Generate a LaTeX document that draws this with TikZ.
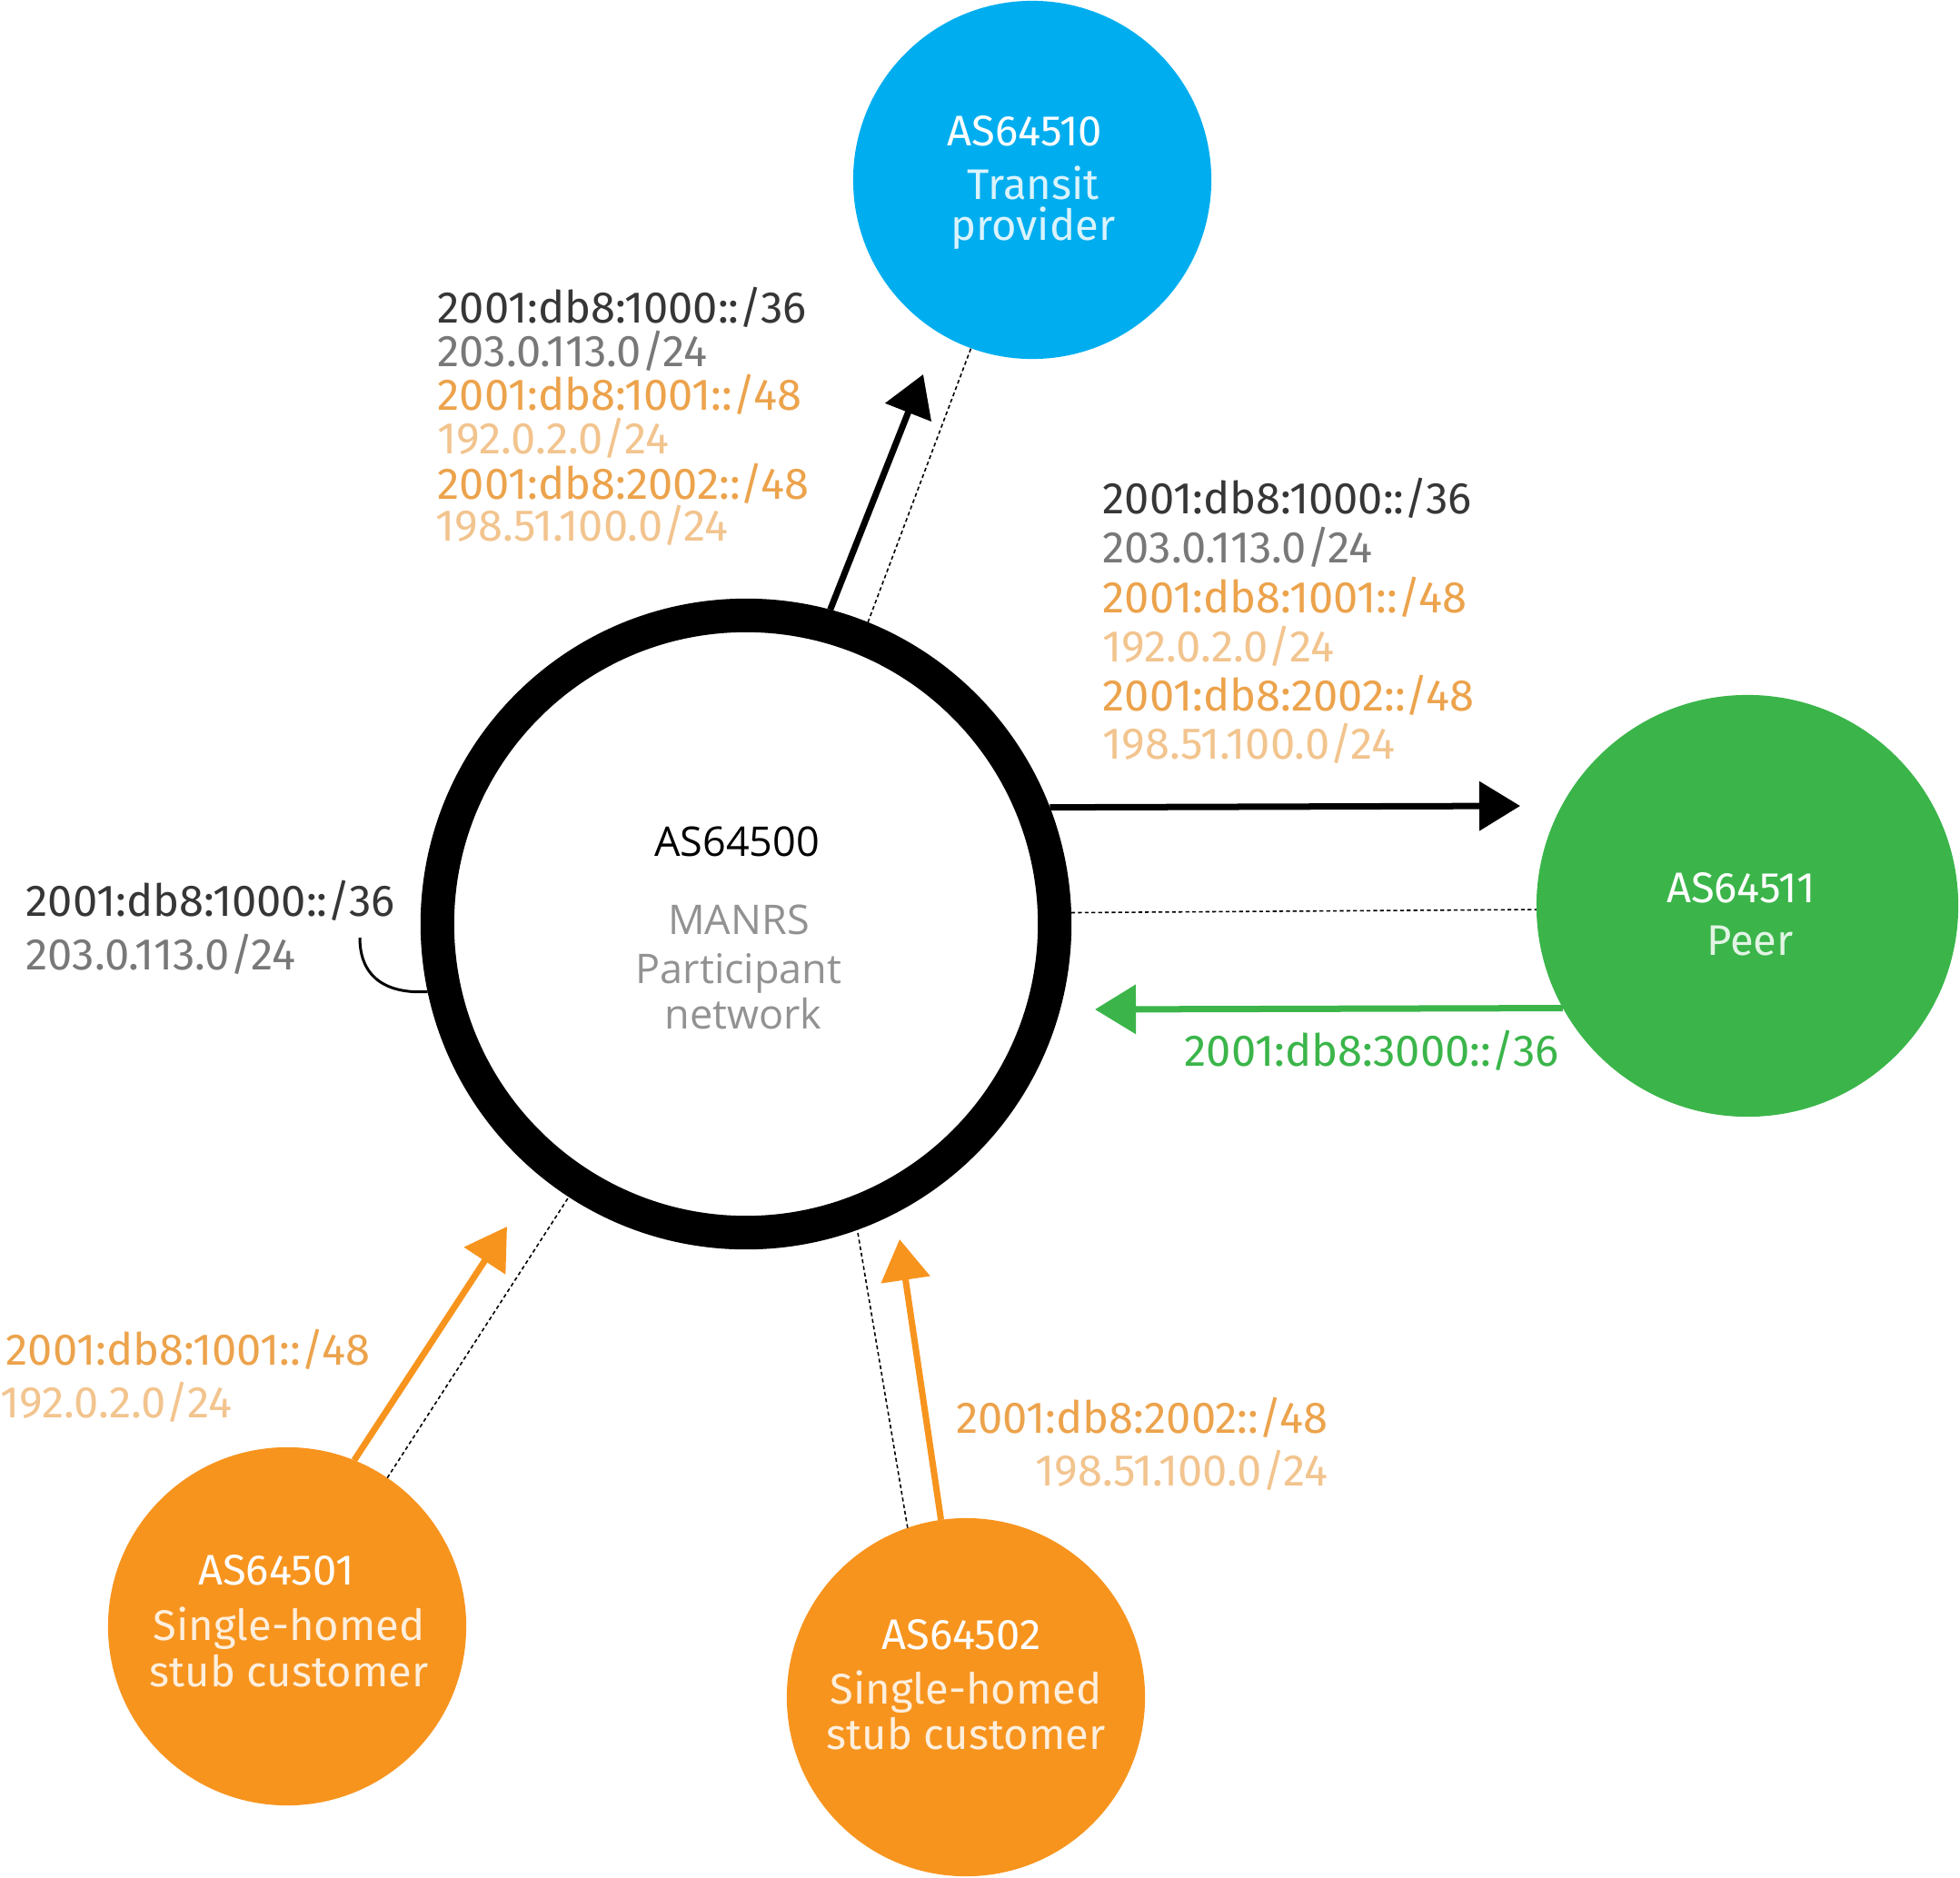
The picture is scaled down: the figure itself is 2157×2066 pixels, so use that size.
\documentclass[tikz,border=0pt]{standalone}
\usepackage{fontspec}
\setmainfont{Fira Sans}
\newfontfamily\labfont{Fira Sans}
\newfontfamily\cenfont{Open Sans}
\usetikzlibrary{arrows.meta}
\definecolor{blueC}{HTML}{00AEEF}
\definecolor{greenC}{HTML}{3BB54A}
\definecolor{orangeC}{HTML}{F7941E}
\definecolor{darkT}{HTML}{363636}
\definecolor{grayT}{HTML}{787878}
\definecolor{orT}{HTML}{ECA34C}
\definecolor{ltT}{HTML}{F2C48E}
\definecolor{cenG}{HTML}{929292}
\begin{document}
\begin{tikzpicture}[x=0.01cm,y=-0.01cm,
  bubble/.style={circle, inner sep=0pt, outer sep=0pt, draw=none},
  lab/.style={anchor=base west, inner sep=0pt, font=\labfont\fontsize{13.9pt}{16pt}\selectfont},
  labR/.style={lab, anchor=base east},
  ctext/.style={anchor=base, inner sep=0pt, text=white, font=\labfont\fontsize{13.4pt}{16pt}\selectfont},
  mtext/.style={anchor=base, inner sep=0pt, font=\cenfont\fontsize{12.8pt}{16pt}\selectfont},
  flow/.style={line width=0.07cm, -{Triangle[length=0.45cm,width=0.53cm]}},
  dotline/.style={line width=0.45pt, dash pattern=on 1.2pt off 0.9pt},
]
\useasboundingbox (0,0) rectangle (2157,2066);

% circles
\node[bubble, fill=blueC, minimum size=3.94cm] (transit) at (1136,198) {};
\node[bubble, fill=greenC, minimum size=4.64cm] (peer) at (1923,997) {};
\node[bubble, fill=orangeC, minimum size=3.94cm] (stubA) at (316,1790) {};
\node[bubble, fill=orangeC, minimum size=3.94cm] (stubB) at (1063,1868) {};
\node[circle, draw=black, fill=white, line width=0.37cm, inner sep=0pt, outer sep=0.185cm, minimum size=6.79cm] (manrs) at (821,1017) {};

% circle texts
\node[ctext] (tAS) at (1128,160) {AS64510};
\node[ctext, text=white!85!blueC] (tL1) at (1137,219) {Transit};
\node[ctext, text=white!85!blueC] (tL2) at (1137,264) {provider};

\node[ctext] (pAS) at (1916,993) {AS64511};
\node[ctext, text=white!85!greenC] (pL1) at (1926,1051) {Peer};

\node[ctext] (aAS) at (304,1744) {AS64501};
\node[ctext, text=white!85!orangeC] (aL1) at (318,1805) {Single-homed};
\node[ctext, text=white!85!orangeC] (aL2) at (318,1856) {stub customer};

\node[ctext] (bAS) at (1058,1815) {AS64502};
\node[ctext, text=white!85!orangeC] (bL1) at (1063,1875) {Single-homed};
\node[ctext, text=white!85!orangeC] (bL2) at (1063,1925) {stub customer};

\node[mtext, text=black] (mAS) at (811,942) {AS64500};
\node[mtext, text=cenG] (mL1) at (813,1028) {MANRS};
\node[mtext, text=cenG] (mL2) at (813,1082) {Participant};
\node[mtext, text=cenG] (mL3) at (818,1132) {network};

% labels: towards transit
\node[lab, text=darkT] (u1) at (481,355) {2001:db8:1000::/36};
\node[lab, text=grayT] (u2) at (481,403) {203.0.113.0/24};
\node[lab, text=orT]   (u3) at (481,451) {2001:db8:1001::/48};
\node[lab, text=ltT]   (u4) at (481,499) {192.0.2.0/24};
\node[lab, text=orT]   (u5) at (481,549) {2001:db8:2002::/48};
\node[lab, text=ltT]   (u6) at (479,595) {198.51.100.0/24};

% labels: towards peer
\node[lab, text=darkT] (r1) at (1213,565) {2001:db8:1000::/36};
\node[lab, text=grayT] (r2) at (1213,619) {203.0.113.0/24};
\node[lab, text=orT]   (r3) at (1213,674) {2001:db8:1001::/48};
\node[lab, text=ltT]   (r4) at (1213,728) {192.0.2.0/24};
\node[lab, text=orT]   (r5) at (1213,782) {2001:db8:2002::/48};
\node[lab, text=ltT]   (r6) at (1213,835) {198.51.100.0/24};

% own prefixes
\node[lab, text=darkT] (o1) at (28,1008) {2001:db8:1000::/36};
\node[lab, text=grayT] (o2) at (28,1067) {203.0.113.0/24};

% from peer
\node[lab, text=greenC] (g1) at (1303,1173) {2001:db8:3000::/36};

% from customers
\node[lab, text=orT] (c1) at (6,1502) {2001:db8:1001::/48};
\node[lab, text=ltT] (c2) at (0,1560) {192.0.2.0/24};
\node[labR, text=orT] (d1) at (1462,1577) {2001:db8:2002::/48};
\node[labR, text=ltT] (d2) at (1462,1635) {198.51.100.0/24};

% connectors
\coordinate (tipT) at (1016,412);
\coordinate (tipP) at (1673,887);
\coordinate (tipG) at (1205,1111);
\coordinate (tipA) at (558,1350);
\coordinate (tipB) at (990,1364);
\coordinate (hook) at (396,1032);

\draw[flow] (manrs.75.3) -- (tipT);
\draw[dotline] (manrs.68.9) -- (transit.250.4);
\draw[flow] (manrs.21.3) -- (tipP);
\draw[dotline] (manrs.2.56) -- (peer.181);
\draw[flow, color=greenC] (peer.209.4) -- (tipG);
\draw[flow, color=orangeC] (stubA.68.8) -- (tipA);
\draw[dotline] (stubA.56.2) -- (manrs.237.3);
\draw[flow, color=orangeC] (stubB.98.1) -- (tipB);
\draw[dotline] (stubB.109.7) -- (manrs.290);
\draw[line width=0.03cm] (hook) .. controls (396,1078) and (428,1094) .. (manrs.192.2);
\end{tikzpicture}
\end{document}
